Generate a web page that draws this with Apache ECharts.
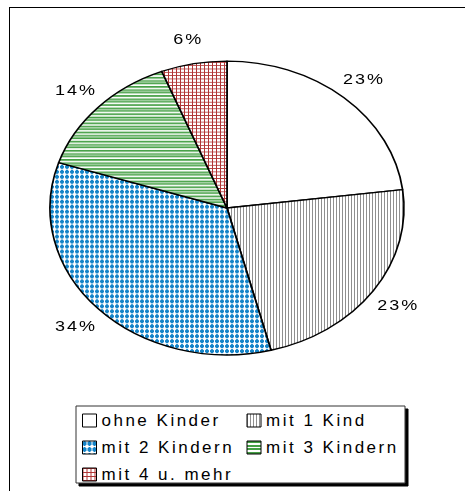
<!DOCTYPE html>
<html>
<head>
<meta charset="utf-8">
<script src="https://cdn.jsdelivr.net/npm/echarts@6/dist/echarts.min.js"></script>
<style>
  html, body { margin: 0; padding: 0; width: 465px; height: 491px; overflow: hidden; background: #fff; }
  #frame { position: absolute; left: 9px; top: 7px; width: 480px; height: 500px; border-left: 1px solid #000; border-top: 1px solid #000; }
  /* pie is drawn round and squeezed into the ellipse of the original */
  #pie { position: absolute; left: 0; top: -60px; width: 465px; height: 611px; transform: scaleY(0.83); transform-origin: 0 268px; }
  #legend { position: absolute; left: 0; top: 0; width: 465px; height: 491px; }
  #pie svg text { letter-spacing: 2px; }
  #legend svg text { letter-spacing: 2.5px; }
</style>
</head>
<body>
<div id="frame"></div>
<div id="pie"></div>
<div id="legend"></div>
<script>
const categories = ["ohne Kinder", "mit 1 Kind", "mit 2 Kindern", "mit 3 Kindern", "mit 4 u. mehr"]
const shares = [23, 23, 34, 14, 6]

const FONT = "'Liberation Sans', Arial, sans-serif"

// small tiles used as fill patterns
const makePattern = (w, h, draw) => {
  const c = document.createElement("canvas")
  c.width = w
  c.height = h
  const ctx = c.getContext("2d")
  ctx.fillStyle = "#fff"
  ctx.fillRect(0, 0, w, h)
  draw(ctx)
  return { image: c.toDataURL(), repeat: "repeat", imageWidth: w, imageHeight: h }
}

const fills = [
  "#ffffff",
  makePattern(3, 4, (ctx) => {
    ctx.fillStyle = "#8f8f8f"
    ctx.fillRect(0, 0, 1, 4)
  }),
  makePattern(5, 6, (ctx) => {
    ctx.fillStyle = "#1484c8"
    ctx.fillRect(1, 0, 2, 5)
    ctx.fillRect(0, 1, 4, 3)
  }),
  makePattern(2, 11, (ctx) => {
    ctx.fillStyle = "#45a045"
    ctx.fillRect(0, 0, 2, 2)
    ctx.fillRect(0, 4, 2, 2)
    ctx.fillRect(0, 7, 2, 2)
  }),
  makePattern(4, 4, (ctx) => {
    ctx.fillStyle = "#b03535"
    ctx.fillRect(0, 0, 1, 4)
    ctx.fillRect(0, 0, 4, 1)
  })
]

const pieData = categories.map((name, i) => ({
  name: name,
  value: shares[i],
  itemStyle: { color: fills[i] }
}))

const pieChart = echarts.init(document.getElementById("pie"), null, { renderer: "svg" })
pieChart.setOption({
  animation: false,
  series: [
    {
      type: "pie",
      center: [227, 268],
      radius: 177,
      startAngle: 90,
      clockwise: true,
      label: { show: false },
      labelLine: { show: false },
      emphasis: { disabled: true },
      itemStyle: { borderColor: "#000", borderWidth: 1.7 },
      data: pieData
    },
    {
      // invisible ring that only carries the percentage labels
      type: "pie",
      center: [227, 268],
      radius: [194, 214],
      startAngle: 90,
      clockwise: true,
      silent: true,
      itemStyle: { color: "transparent", borderWidth: 0 },
      label: {
        show: true,
        position: "inside",
        formatter: (p) => Math.round(p.percent) + "%",
        color: "#000",
        fontFamily: FONT,
        fontSize: 18
      },
      labelLine: { show: false },
      data: categories.map((name, i) => ({ name: name, value: shares[i] }))
    }
  ]
})

const legendChart = echarts.init(document.getElementById("legend"), null, { renderer: "svg" })
legendChart.setOption({
  animation: false,
  legend: {
    left: 76,
    top: 406,
    width: 340,
    orient: "horizontal",
    padding: [6, 4, 0, 6],
    itemWidth: 14,
    itemHeight: 13,
    itemGap: 10,
    icon: "rect",
    selectedMode: false,
    backgroundColor: "#fff",
    borderColor: "#333",
    borderWidth: 1,
    shadowColor: "#000",
    shadowBlur: 0,
    shadowOffsetX: 3,
    shadowOffsetY: 3,
    itemStyle: { borderColor: "#000", borderWidth: 1 },
    textStyle: { fontFamily: FONT, fontSize: 17, color: "#000", width: 135, lineHeight: 13 },
    data: categories
  },
  series: [{
    type: "pie",
    center: [-50, -50],
    radius: 1,
    label: { show: false },
    labelLine: { show: false },
    data: pieData
  }]
})
</script>
</body>
</html>
